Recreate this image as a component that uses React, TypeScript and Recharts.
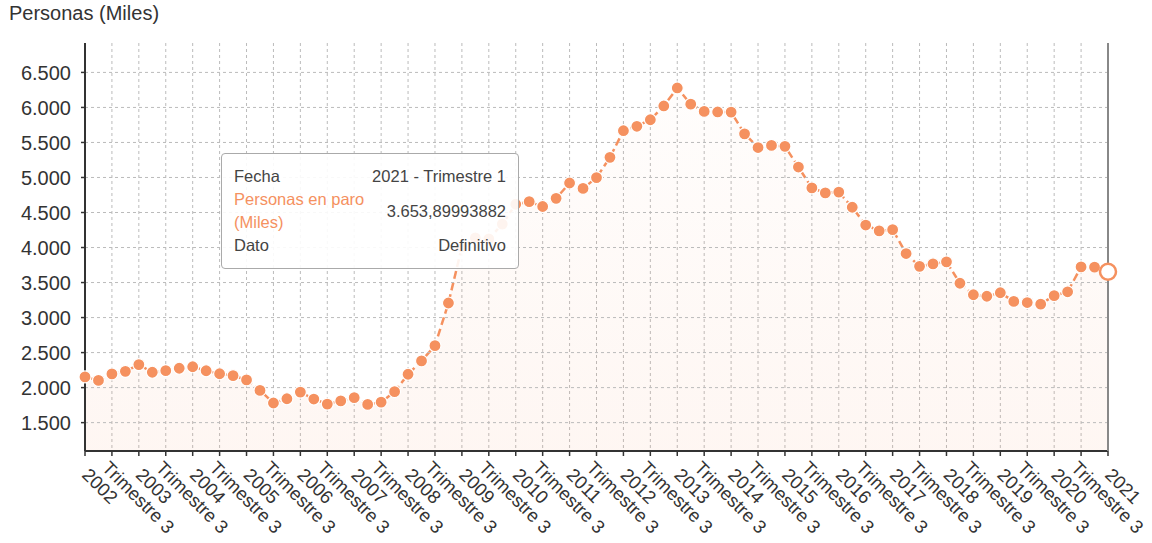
import { AreaChart, Area, XAxis, YAxis, CartesianGrid, Tooltip, ReferenceLine } from 'recharts';

const years = [
  2002, 2003, 2004, 2005, 2006, 2007, 2008, 2009, 2010, 2011,
  2012, 2013, 2014, 2015, 2016, 2017, 2018, 2019, 2020, 2021,
];
const quarterNames = ['Trimestre 1', 'Trimestre 2', 'Trimestre 3', 'Trimestre 4'];

// personas en paro (miles), 2002 T1 .. 2021 T1
const parados = [
  2152.8, 2103.3, 2196.0, 2232.4,
  2328.5, 2219.5, 2242.5, 2276.7,
  2297.7, 2241.0, 2197.9, 2171.4,
  2110.0, 1959.7, 1780.0, 1841.3,
  1935.8, 1837.0, 1765.0, 1810.6,
  1856.1, 1760.0, 1791.9, 1942.0,
  2190.5, 2381.5, 2598.8, 3207.9,
  4010.7, 4137.5, 4123.3, 4335.0,
  4617.7, 4655.3, 4585.4, 4702.2,
  4921.2, 4844.2, 4998.0, 5287.3,
  5667.9, 5731.0, 5824.2, 6021.0,
  6278.2, 6047.3, 5943.4, 5935.6,
  5933.3, 5622.9, 5427.7, 5457.7,
  5444.6, 5149.0, 4850.8, 4779.5,
  4791.4, 4574.7, 4320.8, 4237.8,
  4255.0, 3914.3, 3731.7, 3766.7,
  3796.1, 3490.3, 3326.0, 3304.3,
  3354.2, 3230.6, 3214.4, 3191.9,
  3313.0, 3368.0, 3722.9, 3719.8,
  3653.89993882,
];

const yTicks = [1500, 2000, 2500, 3000, 3500, 4000, 4500, 5000, 5500, 6000, 6500];

const ORANGE = '#f5915f';
const FONT = '"Liberation Sans", Arial, sans-serif';

const fechas = years.flatMap((y) => quarterNames.map((q) => `${y} - ${q}`)).slice(0, parados.length);
const data = fechas.map((fecha, i) => ({ fecha, valor: parados[i], dato: 'Definitivo' }));

const fmtMiles = (v: number) => {
  const [ent, dec] = String(v).split('.');
  const e = ent.replace(/\B(?=(\d{3})+(?!\d))/g, '.');
  return dec ? `${e},${dec}` : e;
};

const XTick = ({ x, y, payload }: any) => {
  const [anio, trim] = String(payload.value).split(' - ');
  const esAnio = trim === 'Trimestre 1';
  const texto = esAnio ? anio : trim;
  const dx = esAnio ? -4 : -11;
  const dy = esAnio ? 18 : 11;
  return (
    <g transform={`translate(${x + dx},${y + dy})`}>
      <text transform="rotate(45)" textAnchor="start" fontSize={18.5} fill="#333" fontFamily={FONT}>
        {texto}
      </text>
    </g>
  );
};

const TooltipBox = ({ active, payload }: any) => {
  if (!active || !payload || !payload.length) return null;
  const p = payload[0].payload;
  const fila = { display: 'flex', justifyContent: 'space-between', alignItems: 'center' } as const;
  return (
    <div
      style={{
        width: 272,
        padding: '11px 12px',
        background: 'rgba(255,255,255,0.9)',
        border: '1px solid #aaa',
        borderRadius: 4,
        fontFamily: FONT,
        fontSize: 16.5,
        lineHeight: '23px',
        color: '#444',
      }}
    >
      <div style={fila}>
        <span>Fecha</span>
        <span>{p.fecha}</span>
      </div>
      <div style={fila}>
        <span style={{ color: ORANGE, width: 140 }}>Personas en paro (Miles)</span>
        <span>{fmtMiles(p.valor)}</span>
      </div>
      <div style={fila}>
        <span>Dato</span>
        <span>{p.dato}</span>
      </div>
    </div>
  );
};

export default function App() {
  return (
    <div style={{ position: 'absolute', left: 0, top: 0, width: 1152, height: 543, fontFamily: FONT }}>
      <div style={{ position: 'absolute', left: 9, top: 2, fontSize: 20, color: '#333' }}>Personas (Miles)</div>
      <AreaChart width={1152} height={543} data={data} margin={{ top: 43, right: 44, bottom: 0, left: 0 }}>
        <defs>
          <linearGradient id="relleno" x1="0" y1="0" x2="0" y2="1">
            <stop offset="0%" stopColor={ORANGE} stopOpacity={0.03} />
            <stop offset="100%" stopColor={ORANGE} stopOpacity={0.13} />
          </linearGradient>
        </defs>
        <CartesianGrid stroke="#bbb" strokeDasharray="3 3" horizontal={false} />
        {yTicks.map((t) => (
          <ReferenceLine key={t} y={t} stroke="#bbb" strokeDasharray="3 3" />
        ))}
        <XAxis
          dataKey="fecha"
          interval={1}
          height={92}
          tick={<XTick />}
          tickSize={5}
          axisLine={{ stroke: '#333', strokeWidth: 2 }}
          tickLine={{ stroke: '#333', strokeWidth: 1.5 }}
        />
        <YAxis
          width={85}
          domain={[1095, 6920]}
          ticks={yTicks}
          tickFormatter={fmtMiles}
          tickSize={4}
          tickMargin={10}
          axisLine={{ stroke: '#333', strokeWidth: 2 }}
          tickLine={{ stroke: '#333', strokeWidth: 1.5 }}
          tick={{ fill: '#333', fontSize: 20, fontFamily: FONT }}
        />
        <Tooltip
          active
          defaultIndex={76}
          position={{ x: 221, y: 153 }}
          content={<TooltipBox />}
          cursor={{ stroke: '#888', strokeWidth: 2 }}
          isAnimationActive={false}
        />
        <Area
          type="linear"
          dataKey="valor"
          stroke={ORANGE}
          strokeWidth={2.5}
          strokeDasharray="8 4"
          fill="url(#relleno)"
          isAnimationActive={false}
          dot={(p: any) => (
            <circle key={`d${p.index}`} cx={p.cx} cy={p.cy} r={6} fill={ORANGE} stroke="#fff" strokeWidth={1.2} />
          )}
          activeDot={(p: any) => (
            <circle key="activo" cx={p.cx} cy={p.cy} r={8} fill="#fff" stroke={ORANGE} strokeWidth={2.5} />
          )}
        />
      </AreaChart>
    </div>
  );
}
